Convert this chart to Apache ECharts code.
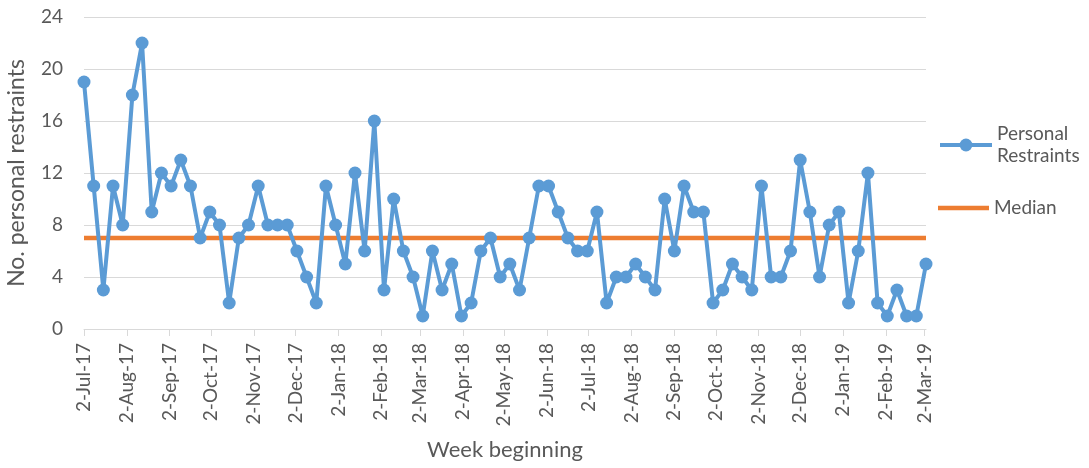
<!DOCTYPE html>
<html>
<head>
<meta charset="utf-8">
<script src="https://cdn.jsdelivr.net/npm/echarts@6/dist/echarts.min.js"></script>
<style>
html,body{margin:0;padding:0;background:#fff;}
#chart{width:1089px;height:468px;}
</style>
</head>
<body>
<div id="chart"></div>
<script>
// Weekly series starting on this date (one value per week)
const startDate = '2017-07-02';
const restraints = [19,11,3,11,8,18,22,9,12,11,
  13,11,7,9,8,2,7,8,11,8,
  8,8,6,4,2,11,8,5,12,6,
  16,3,10,6,4,1,6,3,5,1,
  2,6,7,4,5,3,7,11,11,9,
  7,6,6,9,2,4,4,5,4,3,
  10,6,11,9,9,2,3,5,4,3,
  11,4,4,6,13,9,4,8,9,2,
  6,12,2,1,3,1,1,5];
const medianValue = 7;
const tickLabels = ['2-Jul-17','2-Aug-17','2-Sep-17','2-Oct-17','2-Nov-17','2-Dec-17',
  '2-Jan-18','2-Feb-18','2-Mar-18','2-Apr-18','2-May-18','2-Jun-18','2-Jul-18',
  '2-Aug-18','2-Sep-18','2-Oct-18','2-Nov-18','2-Dec-18','2-Jan-19','2-Feb-19','2-Mar-19'];
const yTicks = [0,4,8,12,16,20,24];

const MONTHS = ['Jan','Feb','Mar','Apr','May','Jun','Jul','Aug','Sep','Oct','Nov','Dec'];
function parseLabel(s){
  const p = s.split('-');
  return Date.UTC(2000 + parseInt(p[2],10), MONTHS.indexOf(p[1]), parseInt(p[0],10));
}
const DAY = 86400000;
const sp = startDate.split('-').map(Number);
const t0 = Date.UTC(sp[0], sp[1]-1, sp[2]);
const dates = restraints.map((_, i) => t0 + i*7*DAY);
const tickValues = tickLabels.map(parseLabel);
const labelByValue = {};
tickLabels.forEach((l, i) => { labelByValue[tickValues[i]] = l; });

const FONT = 'Lato';
const TXT = '#595959';
const BLUE = '#5B9BD5';
const ORANGE = '#ED7D31';

const chart = echarts.init(document.getElementById('chart'), null, {renderer:'canvas'});
chart.setOption({
  animation: false,
  backgroundColor: '#fff',
  textStyle: {fontFamily: FONT, color: TXT},
  grid: {left: 84, right: 163, top: 17, bottom: 139, containLabel: false, outerBoundsMode: 'none'},
  xAxis: {
    type: 'value',
    min: dates[0],
    max: dates[dates.length-1],
    name: 'Week beginning',
    nameLocation: 'middle',
    nameGap: 110,
    nameTextStyle: {fontFamily: FONT, fontSize: 22, color: TXT},
    axisLine: {show: true, lineStyle: {color: '#D9D9D9', width: 1}},
    axisTick: {show: true, customValues: tickValues, length: 7, inside: false, lineStyle: {color: '#D9D9D9'}},
    axisLabel: {
      customValues: tickValues,
      rotate: 90,
      margin: 14,
      fontFamily: FONT,
      fontSize: 19,
      color: TXT,
      formatter: v => labelByValue[v] || ''
    },
    splitLine: {show: false}
  },
  yAxis: {
    type: 'value',
    min: yTicks[0],
    max: yTicks[yTicks.length-1],
    interval: yTicks[1]-yTicks[0],
    name: 'No. personal restraints',
    nameLocation: 'middle',
    nameGap: 56,
    nameTextStyle: {fontFamily: FONT, fontSize: 23, color: TXT},
    axisLine: {show: false},
    axisTick: {show: false},
    axisLabel: {margin: 21, fontFamily: FONT, fontSize: 19, color: TXT},
    splitLine: {lineStyle: {color: '#D9D9D9', width: 1}}
  },
  legend: [
    {
      data: ['Personal Restraints'],
      orient: 'vertical',
      left: 938, top: 123,
      padding: 0,
      itemWidth: 52, itemHeight: 16,
      lineStyle: {width: 4, color: BLUE},
      itemStyle: {color: BLUE},
      formatter: () => 'Personal\nRestraints',
      textStyle: {fontFamily: FONT, fontSize: 19, lineHeight: 22, color: TXT}
    },
    {
      data: [{name: 'Median', icon: 'rect'}],
      orient: 'vertical',
      left: 938, top: 197,
      padding: 0,
      itemWidth: 51, itemHeight: 4.5,
      itemStyle: {color: ORANGE},
      textStyle: {fontFamily: FONT, fontSize: 19, lineHeight: 22, color: TXT}
    }
  ],
  series: [
    {
      name: 'Personal Restraints',
      type: 'line',
      data: dates.map((d, i) => [d, restraints[i]]),
      symbol: 'circle',
      symbolSize: 13,
      showSymbol: true,
      color: BLUE,
      itemStyle: {color: BLUE},
      lineStyle: {color: BLUE, width: 4},
      z: 3
    },
    {
      name: 'Median',
      type: 'line',
      data: dates.map(d => [d, medianValue]),
      symbol: 'none',
      showSymbol: false,
      color: ORANGE,
      lineStyle: {color: ORANGE, width: 4.5},
      z: 2
    }
  ]
});
</script>
</body>
</html>
